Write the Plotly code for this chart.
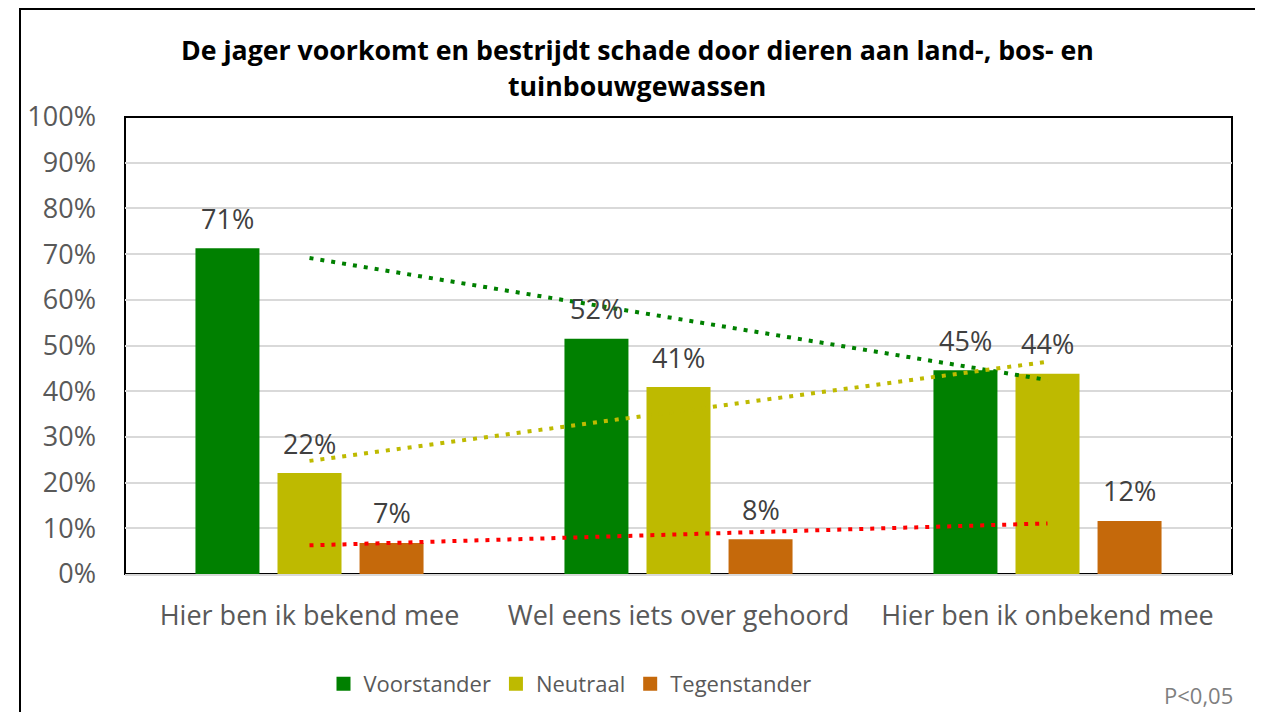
import numpy as np
import plotly.graph_objects as go

categories = ["Hier ben ik bekend mee", "Wel eens iets over gehoord", "Hier ben ik onbekend mee"]
series_names = ["Voorstander", "Neutraal", "Tegenstander"]
voorstander = [0.713, 0.515, 0.446]
neutraal = [0.221, 0.409, 0.438]
tegenstander = [0.068, 0.076, 0.116]
bar_colors = ["#008000", "#BEBA00", "#C5690B"]
trend_colors = ["#008000", "#BEBA00", "#FF0000"]
title_lines = ["De jager voorkomt en bestrijdt schade door dieren aan land-, bos- en",
               "tuinbouwgewassen"]
note_text = "P<0,05"

FONT = "Open Sans"
TXT = "#595959"
BARGAP = 0.333
GROUPGAP = 0.22
W, H = 1255, 704
ML, MT, MR, MB = 117, 109, 31, 138
PW, PH = W - ML - MR, H - MT - MB
BOTTOM = MT + PH


def px_y(fy):
    return (BOTTOM - fy) / PH


def px_x(fx):
    return (fx - ML) / PW


fig = go.Figure()
all_series = [voorstander, neutraal, tegenstander]
xi = np.arange(len(categories))
n = len(all_series)
slot = (1 - BARGAP) / n
for k, (name, vals, col) in enumerate(zip(series_names, all_series, bar_colors)):
    fig.add_trace(go.Bar(
        x=xi, y=vals, name=name, marker=dict(color=col, line=dict(width=0)),
        showlegend=False, hoverinfo="y",
    ))
    off = (k - (n - 1) / 2) * slot
    for x, v in zip(xi, vals):
        fig.add_annotation(x=x + off, y=v, yshift=30, text=f"{round(v*100):.0f}%",
                           showarrow=False, xanchor="center", yanchor="middle",
                           font=dict(family=FONT, size=27, color="#404040"))

for name, vals, col in zip(series_names, all_series, trend_colors):
    a, b = np.polyfit(xi, vals, 1)
    fig.add_trace(go.Scatter(
        x=xi, y=list(a * xi + b), mode="lines", showlegend=False,
        line=dict(color=col, width=4, dash="4px,7px"), hoverinfo="skip",
    ))

for name, col in zip(series_names, bar_colors):
    fig.add_trace(go.Scatter(x=[None], y=[None], mode="markers", name=name,
                             marker=dict(symbol="square", size=14, color=col)))

# plot-area border
fig.add_shape(type="rect", xref="paper", yref="paper", x0=0, x1=1, y0=0, y1=1,
              line=dict(color="black", width=2), layer="below")
# chart-area border
fig.add_shape(type="rect", xref="paper", yref="paper",
              x0=px_x(12), x1=px_x(1249), y0=px_y(H + 20), y1=px_y(1),
              line=dict(color="black", width=2), layer="below")

# title (two lines)
for line, fy in zip(title_lines, [41, 78]):
    fig.add_annotation(text=f"<b>{line}</b>", xref="paper", yref="paper",
                       x=px_x(629), y=px_y(fy), xanchor="center", yanchor="middle",
                       showarrow=False, font=dict(family=FONT, size=26.7, color="black"))

fig.add_annotation(text=note_text, xref="paper", yref="paper", x=px_x(1227), y=px_y(687),
                   xanchor="right", yanchor="middle", showarrow=False,
                   font=dict(family=FONT, size=22, color="#7F7F7F"))

fig.update_layout(
    width=W, height=H,
    margin=dict(l=ML, r=MR, t=MT, b=MB, autoexpand=False),
    paper_bgcolor="white", plot_bgcolor="white",
    barmode="group", bargap=BARGAP, bargroupgap=GROUPGAP,
    font=dict(family=FONT, color=TXT),
    legend=dict(orientation="h", x=px_x(562), xanchor="center",
                y=1 - 676 / H, yanchor="middle", yref="container",
                font=dict(family=FONT, size=22, color=TXT), itemwidth=30,
                traceorder="normal"),
    showlegend=True,
    xaxis=dict(range=[-0.5, 2.5], tickvals=list(xi), ticktext=categories,
               showline=True, linecolor="#D9D9D9", linewidth=2, ticks="", showgrid=False,
               zeroline=False, automargin=False,
               tickfont=dict(family=FONT, size=27, color=TXT), ticklabelstandoff=17),
    yaxis=dict(range=[0, 1], dtick=0.1, tickformat=".0%", showgrid=True,
               gridcolor="#D9D9D9", gridwidth=2, zeroline=False, showline=False,
               automargin=False,
               tickfont=dict(family=FONT, size=27, color=TXT), ticklabelstandoff=28),
)

fig.write_html("out.html")
